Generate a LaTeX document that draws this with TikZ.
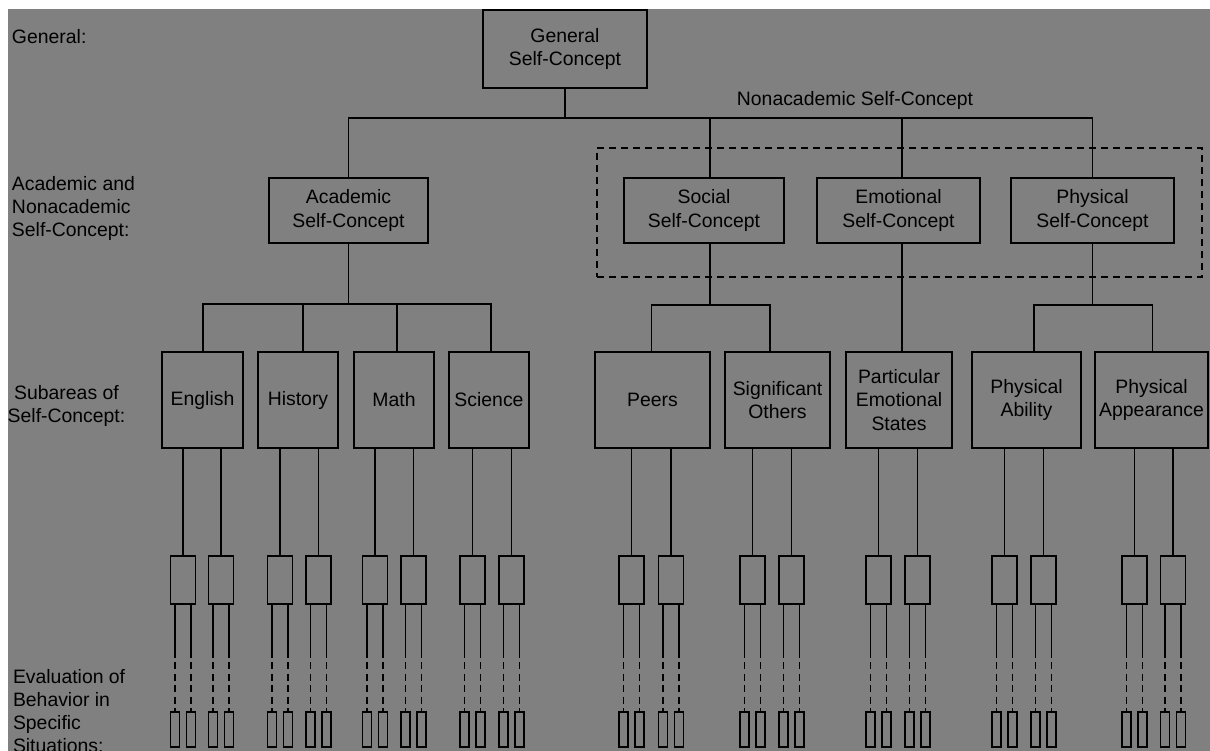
\documentclass[tikz,border=0pt]{standalone}
\usepackage{fontspec}
\setmainfont{Liberation Sans}
\usetikzlibrary{calc}
\definecolor{panel}{RGB}{128,128,128}

\begin{document}
\begin{tikzpicture}[x=1pt,y=-1pt,
  font=\fontsize{19.4}{23.3}\selectfont,
  every node/.style={inner sep=0pt, outer sep=0pt},
  wire/.style={line width=1.7pt, black},
  conceptbox/.style={draw=black, line width=1.7pt, align=center},
  toplevel/.style={conceptbox, minimum height=65pt},
  subarea/.style={conceptbox, minimum height=96pt},
  leafbox/.style={draw=black, line width=1.6pt, minimum width=25pt, minimum height=48pt},
  tinybox/.style={draw=black, line width=1.4pt, minimum width=9pt, minimum height=35pt},
  trail/.style={line width=1.5pt, black, dash pattern=on 7pt off 4.5pt},
  grouping/.style={draw=black, line width=1.6pt, dash pattern=on 7pt off 5pt},
  rowlabel/.style={align=left, anchor=north west}
]
% canvas
\useasboundingbox (0,0) rectangle (1210,751);
\fill[panel] (8,9) rectangle (1210,751);

% row labels
\node[anchor=west] (lgen) at (12,37) {General:};
\node[rowlabel] (lacad) at (12,176) {Academic and\\Nonacademic\\Self-Concept:};
\node[align=center, anchor=north] (lsub) at (66.5,385) {Subareas of\\Self-Concept:};
\node[rowlabel] (leval) at (13,669) {Evaluation of\\Behavior in\\Specific\\Situations:};

% nonacademic grouping
\node[grouping, minimum width=605pt, minimum height=129pt] (nonacad) at (899.5,212.5) {};
\node (nonacadlabel) at (855,100) {Nonacademic Self-Concept};

% general level
\node[conceptbox, minimum width=164pt, minimum height=78pt] (gen) at (565,49) {General\\Self-Concept};

% academic / nonacademic level
\node[toplevel, minimum width=159pt] (acad) at (348.5,210.5) {Academic\\Self-Concept};
\node[toplevel, minimum width=160pt] (soc)  at (704,210.5)   {Social\\Self-Concept};
\node[toplevel, minimum width=163pt] (emo)  at (898.5,210.5) {Emotional\\Self-Concept};
\node[toplevel, minimum width=163pt] (phys) at (1092.5,210.5) {Physical\\Self-Concept};

% subareas
\node[subarea, minimum width=81pt]  (eng) at (202.5,400) {English};
\node[subarea, minimum width=80pt]  (his) at (298,400)   {History};
\node[subarea, minimum width=80pt]  (mat) at (394,400)   {Math};
\node[subarea, minimum width=80pt]  (sci) at (489,400)   {Science};
\node[subarea, minimum width=115pt] (pee) at (652.5,400) {Peers};
\node[subarea, minimum width=105pt] (sig) at (777.5,400) {Significant\\Others};
\node[subarea, minimum width=106pt] (par) at (899,400)   {Particular\\Emotional\\States};
\node[subarea, minimum width=109pt] (abi) at (1026.5,400) {Physical\\Ability};
\node[subarea, minimum width=113pt] (app) at (1151.5,400) {Physical\\Appearance};

% junction points
\coordinate (bus)   at (565,118);
\coordinate (socin) at (710,178);
\coordinate (emoin) at (902,178);
\coordinate (abus)  at (348.5,304);
\coordinate (engin) at (203,352);
\coordinate (hisin) at (303,352);
\coordinate (matin) at (397,352);
\coordinate (sciin) at (491,352);
\coordinate (sbus)  at (710,305);
\coordinate (peein) at (651.5,352);
\coordinate (sigin) at (770,352);
\coordinate (parin) at (902,352);
\coordinate (pbus)  at (1092.5,305);
\coordinate (abiin) at (1034,352);
\coordinate (appin) at (1152.5,352);
\coordinate (cutA)  at (0,658);
\coordinate (cutB)  at (0,662);

% tree connectors
\draw[wire] (gen.south) -- (bus);
\draw[wire] (acad.north) |- (bus) -| (phys.north);
\draw[wire] (socin) -- (socin |- bus);
\draw[wire] (emoin) -- (emoin |- bus);

\draw[wire] (acad.south) -- (abus);
\draw[wire] (engin) |- (abus) -| (sciin);
\draw[wire] (hisin) -- (hisin |- abus);
\draw[wire] (matin) -- (matin |- abus);

\draw[wire] (soc.south -| socin) -- (sbus);
\draw[wire] (peein) |- (sbus) -| (sigin);
\draw[wire] (emo.south -| emoin) -- (parin);
\draw[wire] (phys.south) -- (pbus);
\draw[wire] (abiin) |- (pbus) -| (appin);

% evaluations of behaviour in specific situations
\foreach \c/\p [count=\i] in {183/eng,221/eng,280/his,318.5/his,375/mat,413.5/mat,
    472.5/sci,511.5/sci,631.5/pee,671/pee,752.5/sig,791.5/sig,878.5/par,917.5/par,
    1004.5/abi,1043.5/abi,1134.5/app,1173/app}{
  \node[leafbox] (s\i) at (\c,580) {};
  \draw[wire] (\p.south -| s\i.north) -- (s\i.north);
  \foreach \side/\dx in {l/-8,r/8}{
    \node[tinybox] (t\side\i) at ({\c+(\dx)},729.5) {};
    \draw[wire] (t\side\i.north |- s\i.south) -- (t\side\i.north |- cutA);
    \draw[trail] (t\side\i.north |- cutB) -- (t\side\i.north);
  }
}
\end{tikzpicture}
\end{document}
